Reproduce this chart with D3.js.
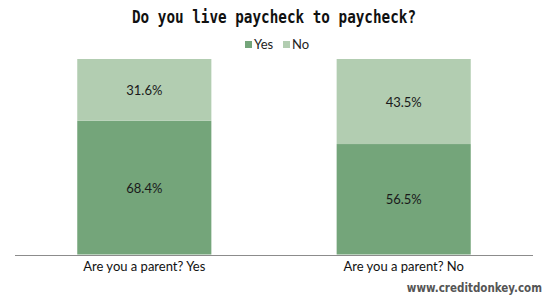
<!DOCTYPE html>
<html>
<head>
<meta charset="utf-8">
<script src="https://cdn.jsdelivr.net/npm/d3@7"></script>
<style>
  body { margin: 0; background: #fff; }
  text { font-family: Lato, "Open Sans", sans-serif; }
</style>
</head>
<body>
<script>
  var width = 550, height = 300;
  var margin = { top: 59, left: 15, right: 17, bottom: 45 };

  // data
  var categories = ["Are you a parent?  Yes", "Are you a parent?  No"];
  var series = ["Yes", "No"];
  var yesValues = [68.4, 56.5];
  var noValues = [31.6, 43.5];
  var colors = ["#74a57a", "#b2cdb1"];

  var rows = categories.map(function(c, i) {
    return { cat: c, Yes: yesValues[i], No: noValues[i] };
  });
  var stacked = d3.stack().keys(series)(rows);

  var svg = d3.select("body").append("svg")
    .attr("width", width)
    .attr("height", height);

  var xScale = d3.scaleBand()
    .domain(categories)
    .range([margin.left, width - margin.right])
    .paddingInner(0.483)
    .paddingOuter(0.24);

  var yScale = d3.scaleLinear()
    .domain([0, 100])
    .range([height - margin.bottom - 0.5, margin.top]);

  var color = d3.scaleOrdinal().domain(series).range(colors);

  // title
  svg.append("text")
    .attr("x", 132)
    .attr("y", 23)
    .attr("textLength", 284)
    .attr("lengthAdjust", "spacingAndGlyphs")
    .style("font-family", "'DejaVu Sans Mono', monospace")
    .style("font-weight", "bold")
    .style("font-size", "17px")
    .style("fill", "#111")
    .text("Do you live paycheck to paycheck?");

  // legend
  var legendX = [245, 283];
  series.forEach(function(s, i) {
    svg.append("rect")
      .attr("x", legendX[i]).attr("y", 41)
      .attr("width", 7).attr("height", 7)
      .attr("fill", color(s));
    svg.append("text")
      .attr("x", legendX[i] + 9).attr("y", 48.5)
      .style("font-size", "13px")
      .style("fill", "#222")
      .text(s);
  });

  // bars
  var groups = svg.selectAll("g.layer")
    .data(stacked)
    .enter().append("g")
    .attr("class", "layer")
    .attr("fill", function(d) { return color(d.key); });

  groups.selectAll("rect")
    .data(function(d) { return d; })
    .enter().append("rect")
    .attr("x", function(d) { return xScale(d.data.cat); })
    .attr("width", xScale.bandwidth())
    .attr("y", function(d) { return yScale(d[1]); })
    .attr("height", function(d) { return yScale(d[0]) - yScale(d[1]); });

  groups.selectAll("text")
    .data(function(d) { return d.map(function(v) { return { v: v, key: d.key }; }); })
    .enter().append("text")
    .attr("x", function(d) { return xScale(d.v.data.cat) + xScale.bandwidth() / 2; })
    .attr("y", function(d) { return (yScale(d.v[0]) + yScale(d.v[1])) / 2 + 5; })
    .attr("text-anchor", "middle")
    .style("font-size", "13px")
    .style("fill", "#1a1a1a")
    .text(function(d) { return d.v.data[d.key].toFixed(1) + "%"; });

  // x axis
  var xAxis = svg.append("g")
    .attr("transform", "translate(0," + (height - margin.bottom) + ")")
    .call(d3.axisBottom(xScale).tickSize(0).tickPadding(7));
  xAxis.select(".domain").attr("stroke", "#8c8c8c").attr("d", "M" + margin.left + ",0.5H" + (width - margin.right));
  xAxis.selectAll("text")
    .style("font-family", "Lato, 'Open Sans', sans-serif")
    .style("font-size", "13px")
    .style("fill", "#111");

  // watermark
  svg.append("text")
    .attr("x", 542)
    .attr("y", 292)
    .attr("text-anchor", "end")
    .style("font-family", "'DejaVu Sans Condensed', 'DejaVu Sans', sans-serif")
    .style("font-weight", "bold")
    .style("font-size", "11.5px")
    .style("fill", "#555")
    .text("www.creditdonkey.com");
</script>
</body>
</html>
